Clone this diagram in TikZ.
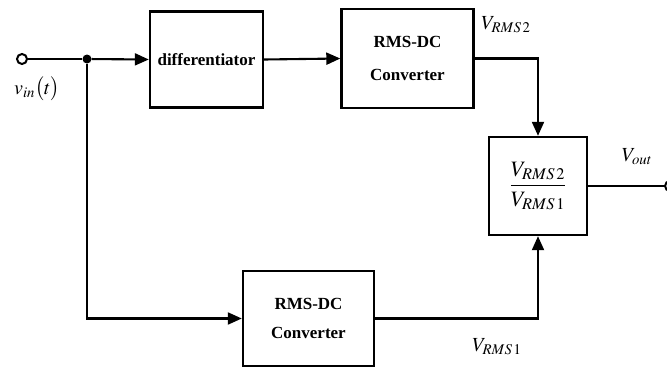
\documentclass[tikz,border=0pt]{standalone}
\usepackage{mathptmx}
\usepackage{fontspec}
\setmainfont{Liberation Serif}
\usetikzlibrary{arrows.meta}
\begin{document}
\begin{tikzpicture}[x=1pt,y=-1pt,
  blk/.style={draw, line width=2.4pt, inner sep=0pt, align=center},
  wire/.style={line width=2.1pt},
  arr/.style={wire, -{Triangle[length=14pt,width=12pt]}},
  term/.style={circle, draw, line width=2pt, fill=white, minimum size=10pt, inner sep=0pt},
  lbl/.style={inner sep=0pt, font=\fontsize{20}{23}\selectfont}
]
\useasboundingbox (0,0) rectangle (667,367);

% terminals and branch point
\node[term] (in) at (22,59) {};
\node[circle, fill, minimum size=9pt, inner sep=0pt] (j) at (87,59) {};
\node[term] (out) at (670,186) {};

% blocks
\node[blk, minimum width=113pt, minimum height=96pt,
      font=\bfseries\fontsize{17}{20}\selectfont] (diff) at (206.5,59.5) {differentiator};
\node[blk, minimum width=132pt, minimum height=99pt,
      font=\bfseries\fontsize{17}{33}\selectfont] (rms2) at (407.5,58.5) {RMS-DC\\Converter};
\node[blk, minimum width=98pt, minimum height=98pt,
      font=\fontsize{22}{24}\selectfont] (ratio) at (538,186)
      {$\displaystyle\frac{V_{RMS\,2}}{V_{RMS\,1}}$};
\node[blk, minimum width=131pt, minimum height=95pt,
      font=\bfseries\fontsize{17}{29}\selectfont] (rms1) at (308.5,318.5) {RMS-DC\\Converter};

% connections
\draw[wire] (in) -- (j);
\draw[arr] (j) -- (diff.west);
\draw[arr] (diff.east) -- (rms2.west);
\draw[arr] (rms2.east) -| (ratio.north);
\draw[arr] (j) |- (rms1.west);
\draw[arr] (rms1.east) -| (ratio.south);
\draw[wire] (ratio.east) -- (out);

% signal labels
\node[lbl] (lin) at (37,89) {$v_{in}\bigl(t\bigr)$};
\node[lbl] (l2) at (506,25) {$V_{RMS\,2}$};
\node[lbl] (lo) at (637,157) {$V_{out}$};
\node[lbl] (l1) at (497,347) {$V_{RMS\,1}$};
\end{tikzpicture}
\end{document}
